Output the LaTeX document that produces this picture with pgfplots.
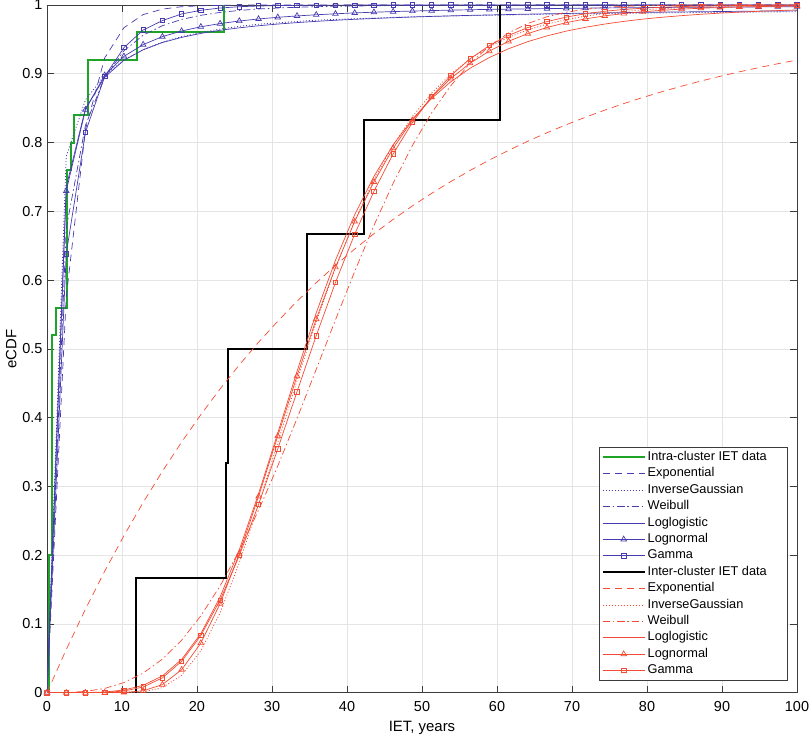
\documentclass[border=0pt]{standalone}
\usepackage{fontspec}
\setmainfont{Liberation Sans}
\usepackage{pgfplots}
\usepackage{pgfplotstable}
\pgfplotsset{compat=1.18}
\definecolor{cblue}{RGB}{70,60,175}
\definecolor{cred}{RGB}{245,75,50}
\definecolor{cgreen}{RGB}{30,165,40}
\definecolor{cgrid}{RGB}{228,228,228}
\definecolor{caxis}{RGB}{60,60,60}

\pgfplotstableread{
x       iexp    iig     iwbl    ill     iln     igam
0       0       0       0       0       0       0
2.564   0.575   0.780   0.675   0.7355  0.7296  0.638
5.128   0.819   0.862   0.825   0.8494  0.8477  0.815
7.692   0.923   0.898   0.895   0.8950  0.8979  0.896
10.256  0.967   0.920   0.9334  0.9196  0.9253  0.938
12.821  0.986   0.935   0.956   0.9349  0.9424  0.9636
15.385  0.994   0.946   0.9699  0.9454  0.9540  0.9773
17.949  0.9975  0.954   0.979   0.9529  0.9622  0.987
20.513  0.9989  0.960   0.985   0.9587  0.9683  0.9923
23.077  0.9995  0.965   0.9892  0.9632  0.9730  0.9956
25.641  0.9998  0.969   0.9921  0.9668  0.9767  0.9975
28.205  0.9999  0.972   0.9942  0.9698  0.9797  0.9985
30.769  1       0.974   0.9956  0.9723  0.9821  0.9991
33.333  1       0.976   0.9967  0.9744  0.9841  0.9995
35.897  1       0.978   0.9975  0.9762  0.9858  0.9997
38.462  1       0.979   0.9981  0.9778  0.9872  0.9998
41.026  1       0.980   0.9985  0.9792  0.9885  0.9999
43.590  1       0.981   0.9989  0.9804  0.9895  0.9999
46.154  1       0.982   0.9991  0.9815  0.9904  1
48.718  1       0.983   0.9993  0.9825  0.9912  1
51.282  1       0.9835  0.9995  0.9834  0.9919  1
53.846  1       0.984   0.9996  0.9842  0.9925  1
56.410  1       0.9845  0.9997  0.9849  0.9931  1
58.974  1       0.985   0.9997  0.9855  0.9936  1
61.538  1       0.9855  0.9998  0.9861  0.9940  1
64.103  1       0.986   0.9998  0.9867  0.9944  1
66.667  1       0.9865  0.9999  0.9872  0.9948  1
69.231  1       0.987   0.9999  0.9877  0.9951  1
71.795  1       0.9873  0.9999  0.9881  0.9954  1
74.359  1       0.9876  0.9999  0.9885  0.9957  1
76.923  1       0.9879  1       0.9889  0.9960  1
79.487  1       0.9882  1       0.9893  0.9962  1
82.051  1       0.9885  1       0.9896  0.9964  1
84.615  1       0.9888  1       0.9899  0.9966  1
87.179  1       0.9890  1       0.9902  0.9968  1
89.744  1       0.9892  1       0.9905  0.9969  1
92.308  1       0.9895  1       0.9908  0.9971  1
94.872  1       0.9897  1       0.9911  0.9972  1
97.436  1       0.9900  1       0.9913  0.9974  1
100     1       0.9902  1       0.9915  0.9975  1
}\intra

\pgfplotstableread{
x       rexp    rig     rwbl    rll     rln     rgam
0       0       0       0       0       0       0
2.564   0.0627  0       0.0002  0.0000  0       0
5.128   0.1215  0       0.0019  0.0002  0       0.0000
7.692   0.1766  0       0.0062  0.0010  0.0000  0.0004
10.256  0.2282  0.0001  0.0147  0.0039  0.0003  0.0024
12.821  0.2766  0.0012  0.0285  0.0107  0.0028  0.0083
15.385  0.3219  0.0074  0.0488  0.0244  0.0118  0.0215
17.949  0.3644  0.0253  0.0763  0.0484  0.0334  0.0456
20.513  0.4043  0.0609  0.1118  0.0859  0.0722  0.0832
23.077  0.4417  0.1162  0.1553  0.1391  0.1294  0.1346
25.641  0.4767  0.1889  0.2067  0.2079  0.2021  0.1993
28.205  0.5095  0.2734  0.2652  0.2891  0.2853  0.2736
30.769  0.5402  0.3636  0.3297  0.3776  0.3732  0.3546
33.333  0.5691  0.4538  0.3986  0.4671  0.4604  0.4376
35.897  0.5961  0.5394  0.4702  0.5523  0.5432  0.5191
38.462  0.6214  0.6174  0.5422  0.6288  0.6186  0.5965
41.026  0.6451  0.6864  0.6126  0.6951  0.6852  0.6668
43.590  0.6674  0.7459  0.6794  0.7507  0.7428  0.7291
46.154  0.6882  0.7961  0.7408  0.7967  0.7917  0.7835
48.718  0.7078  0.8378  0.7956  0.8340  0.8324  0.8290
51.282  0.7261  0.8719  0.8431  0.8641  0.8659  0.8668
53.846  0.7433  0.8996  0.8828  0.8884  0.8933  0.8974
56.410  0.7594  0.9216  0.9150  0.9080  0.9153  0.9218
58.974  0.7745  0.9391  0.9402  0.9236  0.9330  0.9409
61.538  0.7886  0.9530  0.9593  0.9364  0.9472  0.9558
64.103  0.8019  0.9638  0.9731  0.9467  0.9584  0.9672
66.667  0.8143  0.9722  0.9829  0.9551  0.9673  0.9759
69.231  0.8259  0.9787  0.9895  0.9620  0.9743  0.9824
71.795  0.8368  0.9838  0.9938  0.9676  0.9798  0.9873
74.359  0.8471  0.9876  0.9965  0.9723  0.9842  0.9909
76.923  0.8567  0.9906  0.9981  0.9762  0.9876  0.9935
79.487  0.8657  0.9929  0.9990  0.9795  0.9902  0.9954
82.051  0.8741  0.9946  0.9995  0.9822  0.9923  0.9967
84.615  0.8820  0.9959  0.9998  0.9845  0.9940  0.9977
87.179  0.8894  0.9969  0.9999  0.9865  0.9953  0.9984
89.744  0.8963  0.9977  1       0.9882  0.9963  0.9989
92.308  0.9028  0.9983  1       0.9896  0.9971  0.9992
94.872  0.9089  0.9987  1       0.9908  0.9977  0.9995
97.436  0.9146  0.9990  1       0.9919  0.9982  0.9996
100     0.9200  0.9993  1       0.9928  0.9986  0.9997
}\inter

\begin{document}
\begin{tikzpicture}
\begin{axis}[
  scale only axis, width=750bp, height=687.7bp,
  xmin=0, xmax=100, ymin=0, ymax=1,
  xtick={0,10,20,30,40,50,60,70,80,90,100},
  ytick={0,0.1,0.2,0.3,0.4,0.5,0.6,0.7,0.8,0.9,1},
  yticklabels={0,0.1,0.2,0.3,0.4,0.5,0.6,0.7,0.8,0.9,1},
  grid=major, grid style={line width=0.6bp, cgrid},
  axis line style={caxis, line width=0.6bp},
  tick style={caxis, line width=0.6bp},
  tick align=inside, major tick length=7bp,
  xtick pos=both, ytick pos=both,
  xticklabel pos=bottom, yticklabel pos=left,
  tick label style={font=\fontsize{14.5}{16}\selectfont},
  xticklabel style={yshift=-5bp},
  yticklabel style={xshift=-1bp},
  /pgf/number format/assume math mode=true,
  xlabel={IET, years}, ylabel={eCDF},
  label style={font=\fontsize{15}{17}\selectfont},
  xlabel style={yshift=-3bp},
  ylabel style={yshift=-1bp},
  legend cell align=left,
  legend style={at={(1,0)}, anchor=south east, xshift=-9bp, yshift=11.7bp,
    draw=caxis, line width=0.6bp, fill=white,
    font=\fontsize{12.8}{14}\selectfont,
    inner xsep=2bp, inner ysep=2bp,
    nodes={text height=9.4bp, text depth=3bp, inner ysep=2bp, inner xsep=2bp},
    row sep=0bp},
  legend image code/.code={\draw[mark repeat=2,mark phase=2,#1] plot coordinates {(0bp,0bp) (21bp,0bp) (42bp,0bp)};},
]
% intra-cluster
\addplot[cgreen, line width=2bp, const plot] coordinates {(0,0) (0.3,0.2) (0.6,0.52) (1.2,0.56) (2.65,0.76) (3.25,0.80) (3.55,0.84) (5.5,0.92) (12.0,0.96) (23.6,1.0)};
\addplot[cblue, line width=0.7bp, dash pattern=on 7bp off 5bp] table[x=x, y=iexp]{\intra};
\addplot[cblue, line width=0.8bp, dash pattern=on 1bp off 2bp] table[x=x, y=iig]{\intra};
\addplot[cblue, line width=0.7bp, dash pattern=on 7bp off 3bp on 1.5bp off 3bp] table[x=x, y=iwbl]{\intra};
\addplot[cblue, line width=0.7bp] table[x=x, y=ill]{\intra};
\addplot[cblue, line width=0.7bp, mark=triangle, mark size=3.2bp, mark options={solid}] table[x=x, y=iln]{\intra};
\addplot[cblue, line width=0.7bp, mark=square, mark size=2.2bp, mark options={solid}] table[x=x, y=igam]{\intra};
% inter-cluster
\addplot[black, line width=2bp, const plot] coordinates {(11.9,0) (11.9,0.1667) (23.87,0.3333) (24.1,0.5) (34.65,0.6667) (42.3,0.8333) (60.45,1.0)};
\addplot[cred, line width=0.7bp, dash pattern=on 7bp off 5bp] table[x=x, y=rexp]{\inter};
\addplot[cred, line width=0.8bp, dash pattern=on 1bp off 2bp] table[x=x, y=rig]{\inter};
\addplot[cred, line width=0.7bp, dash pattern=on 7bp off 3bp on 1.5bp off 3bp] table[x=x, y=rwbl]{\inter};
\addplot[cred, line width=0.7bp] table[x=x, y=rll]{\inter};
\addplot[cred, line width=0.7bp, mark=triangle, mark size=3.2bp, mark options={solid}] table[x=x, y=rln]{\inter};
\addplot[cred, line width=0.7bp, mark=square, mark size=2.2bp, mark options={solid}] table[x=x, y=rgam]{\inter};
\legend{\makebox[136bp][l]{Intra-cluster IET data}, Exponential, InverseGaussian, Weibull, Loglogistic, Lognormal, Gamma, Inter-cluster IET data, Exponential, InverseGaussian, Weibull, Loglogistic, Lognormal, Gamma}
\end{axis}
\pgfresetboundingbox
\path[use as bounding box] (-47bp,-44.3bp) rectangle (762bp,692.7bp);
\end{tikzpicture}
\end{document}
